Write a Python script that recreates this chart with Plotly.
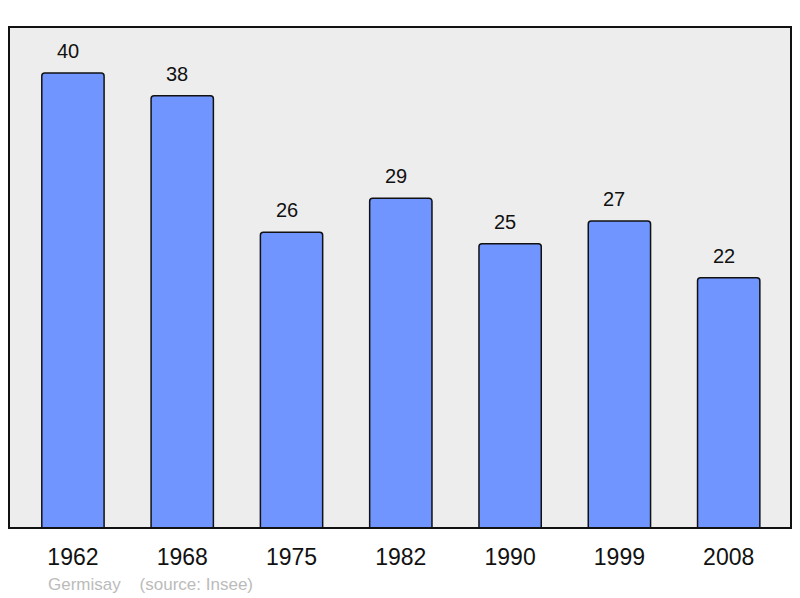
import plotly.graph_objects as go

years = ["1962", "1968", "1975", "1982", "1990", "1999", "2008"]
population = [40, 38, 26, 29, 25, 27, 22]
footer_text = "Germisay    (source: Insee)"

FONT = "Liberation Sans, Arial, sans-serif"

fig = go.Figure()
fig.add_trace(go.Bar(
    x=years, y=population, width=0.57,
    marker=dict(color="#7095FF", line=dict(color="#111111", width=1.5), cornerradius=3),
    hoverinfo="skip",
))
for i, v in enumerate(population):
    fig.add_annotation(x=i, y=v, text=str(v), showarrow=False, yshift=22, xshift=-5,
                       yanchor="middle",
                       font=dict(size=20, color="#111111", family=FONT))

fig.add_shape(type="rect", xref="paper", yref="paper", x0=0, x1=1, y0=0, y1=1,
              line=dict(color="#111111", width=2), layer="above")
fig.add_annotation(xref="paper", yref="paper", x=0.0475, y=-0.112, xanchor="left", yanchor="middle",
                   text=footer_text, showarrow=False,
                   font=dict(size=17, color="#BBBBBB", family=FONT))

# page body has an 8px margin, so the figure is sized to the remaining window
fig.update_layout(
    width=792, height=590,
    margin=dict(l=1, r=9, t=19, b=70),
    paper_bgcolor="white", plot_bgcolor="#EDEDED",
    showlegend=False,
    xaxis=dict(type="category", range=[-0.585, 6.57], showgrid=False, zeroline=False,
               ticks="outside", ticklen=8, tickcolor="rgba(0,0,0,0)",
               tickfont=dict(size=23, color="#111111", family=FONT),
               fixedrange=True),
    yaxis=dict(range=[0, 44.05], showgrid=False, zeroline=False, showticklabels=False,
               fixedrange=True),
)
fig.write_html("out.html")
